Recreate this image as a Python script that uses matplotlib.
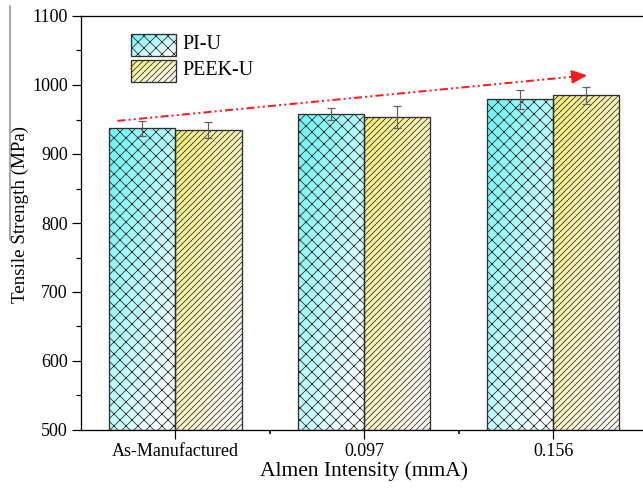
import numpy as np
import matplotlib
matplotlib.use("Agg")
import matplotlib.pyplot as plt
from matplotlib.patches import Rectangle
from matplotlib.lines import Line2D
from matplotlib.colors import to_rgb

categories = ["As-Manufactured", "0.097", "0.156"]
series_names = ["PI-U", "PEEK-U"]
pi_u = [937, 958, 979]
pi_u_err = [11, 9, 14]
peek_u = [935, 954, 985]
peek_u_err = [12, 16, 12]
y_ticks = [500, 600, 700, 800, 900, 1000, 1100]

plt.rcParams['font.family'] = ['Liberation Serif', 'DejaVu Serif']
plt.rcParams['hatch.color'] = '#3a3a3a'
plt.rcParams['hatch.linewidth'] = 0.8

W, H = 643, 490
fig = plt.figure(figsize=(W / 72, H / 72), dpi=72)
ax_left, ax_right, ax_top, ax_bot = 81, 647.5, 16, 430
ax = fig.add_axes([ax_left / W, (H - ax_bot) / H, (ax_right - ax_left) / W, (ax_bot - ax_top) / H])

sat = {"PI-U": "#6cf6f6", "PEEK-U": "#f6ef78"}
light = {"PI-U": "#f8ffff", "PEEK-U": "#fffdf4"}
hatches = {"PI-U": "xx", "PEEK-U": "////"}


def gradient(name, n=80):
    c0 = np.array(to_rgb(sat[name]))
    c1 = np.array(to_rgb(light[name]))
    v, u = np.mgrid[0:1:n * 1j, 0:1:n * 1j]
    t = np.clip(0.55 * u + 0.6 * v, 0, 1)[..., None]
    return c0 * (1 - t) + c1 * t


bw = 0.35
x = np.arange(len(categories))
for vals, errs, name, off in [(pi_u, pi_u_err, "PI-U", -bw / 2), (peek_u, peek_u_err, "PEEK-U", bw / 2)]:
    bars = ax.bar(x + off, np.array(vals) - 500, bw, bottom=500, facecolor='none',
                  edgecolor='#2e2e2e', linewidth=1.3, hatch=hatches[name], zorder=3)
    for b in bars:
        x0, y0 = b.get_x(), b.get_y()
        im = ax.imshow(gradient(name), extent=(x0, x0 + b.get_width(), y0, y0 + b.get_height()),
                       aspect='auto', zorder=2, interpolation='bilinear')
        im.set_clip_path(b)
    ax.errorbar(x + off, vals, yerr=errs, fmt='none', ecolor='#606060', elinewidth=1.2,
                capsize=4, capthick=1.2, zorder=4)

# trend arrow
trend_start = (-0.307, 948)
trend_end = (2.18, 1014)
ax.plot([trend_start[0], trend_end[0] - 0.05], [trend_start[1], trend_end[1] - 1.3], color='#ff1a1a',
        lw=2, linestyle=(0, (4, 1.6, 1, 1.6, 1, 1.6)), zorder=5)
ax.annotate('', xy=trend_end, xytext=(trend_end[0] - 0.06, trend_end[1] - 1.6),
            arrowprops=dict(arrowstyle='-|>,head_length=0.9,head_width=0.4', color='#ff1a1a', lw=1.5,
                            mutation_scale=15, shrinkA=0, shrinkB=0), zorder=5)

# legend (manual)
leg_x0, leg_x1 = 0.0883, 0.1677
for (y0, y1), name in zip([(0.903, 0.957), (0.841, 0.894)], series_names):
    r = Rectangle((leg_x0, y0), leg_x1 - leg_x0, y1 - y0, transform=ax.transAxes, facecolor='none',
                  edgecolor='#2e2e2e', linewidth=1.3, hatch=hatches[name], zorder=6)
    ax.add_patch(r)
    im = ax.imshow(gradient(name), extent=(leg_x0, leg_x1, y0, y1), transform=ax.transAxes,
                   aspect='auto', zorder=5, interpolation='bilinear')
    im.set_clip_path(r)
    ax.text(0.179, (y0 + y1) / 2, name, transform=ax.transAxes, fontsize=20, va='center', ha='left')

ax.set_xlim(-0.5, 2.5)
ax.set_ylim(500, 1100)
ax.set_xticks(x)
ax.set_xticklabels(categories)
ax.set_xticks([0.5, 1.5], minor=True)
ax.set_yticks(y_ticks)
ax.set_yticks(np.arange(550, 1100, 100), minor=True)
ax.tick_params(axis='both', which='major', direction='out', length=9, width=1.2, labelsize=18, pad=4)
ax.tick_params(axis='y', which='minor', direction='out', length=5, width=1.2)
ax.tick_params(axis='x', which='minor', direction='out', length=4, width=1.6)
for s in ax.spines.values():
    s.set_linewidth(1.3)

ax.set_xlabel("Almen Intensity (mmA)", fontsize=21.5)
ax.set_ylabel("Tensile Strength (MPa)", fontsize=19)
ax.xaxis.set_label_coords(0.5, -0.075)
ax.yaxis.set_label_coords(-0.091, 0.52)

fig.add_artist(Line2D([10 / W, 10 / W], [1 - 6 / H, 1 - 240 / H], color='#8a8a8a', lw=1.5))

fig.savefig("out.png", dpi=72)
